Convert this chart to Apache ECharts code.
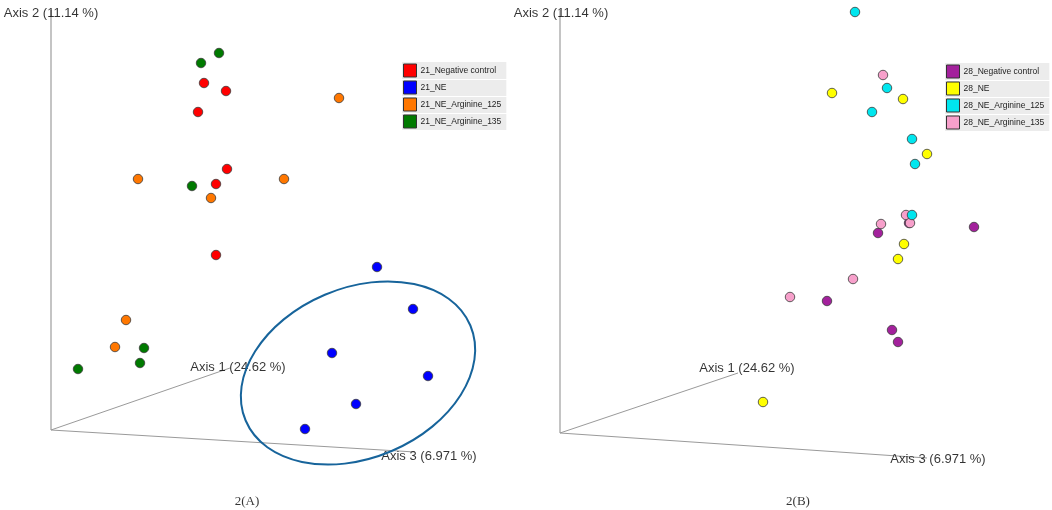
<!DOCTYPE html>
<html>
<head>
<meta charset="utf-8">
<script src="https://cdn.jsdelivr.net/npm/echarts@6/dist/echarts.min.js"></script>
<style>
html,body{margin:0;padding:0;background:#fff;}
#chart{width:1052px;height:510px;}
</style>
</head>
<body>
<div id="chart"></div>
<script>
// ---- Data (projected PCoA scores, panel units) ----
const groupsA = ['21_Negative control', '21_NE', '21_NE_Arginine_125', '21_NE_Arginine_135'];
const groupsB = ['28_Negative control', '28_NE', '28_NE_Arginine_125', '28_NE_Arginine_135'];

const a_neg   = [[153,347],[175,339],[147,318],[176,261],[165,246],[165,175]];
const a_ne    = [[326,163],[362,121],[281,77],[377,54],[305,26],[254,1]];
const a_arg125= [[288,332],[87,251],[233,251],[160,232],[75,110],[64,83]];
const a_arg135= [[168,377],[150,367],[141,244],[93,82],[89,67],[27,61]];

const b_neg   = [[349,210],[318,200],[414,206],[267,132],[332,103],[338,91]];
const b_ne    = [[272,340],[343,334],[367,279],[344,189],[338,174],[203,31]];
const b_arg125= [[295,421],[327,345],[312,321],[352,294],[355,269],[352,218]];
const b_arg135= [[323,358],[321,209],[346,218],[350,210],[293,154],[230,136]];

// 3D axes projected end points
const axis2A = [[0,0],[0,420]];
const axis1A = [[0,0],[179,62]];
const axis3A = [[0,0],[364,-22]];
const axis2B = [[0,0],[0,423]];
const axis1B = [[0,0],[178,60]];
const axis3B = [[0,0],[367,-25]];

const axisNames = ['Axis 2 (11.14 %)', 'Axis 1 (24.62 %)', 'Axis 3 (6.971 %)'];
const labelPosA = [[0,417],[187,63],[378,-26]];
const labelPosB = [[1,420],[187,65],[378,-26]];
const captions = ['2(A)', '2(B)'];
const captionPos = [[196,-72],[238,-69]];

// NE cluster ellipse in panel A: centre x, centre y, radius x, radius y, tilt (rad)
const ellipseA = [[307,57,122,85,0.4]];

const colorsA = ['#ff0000','#0000ff','#ff7700','#007a00'];
const colorsB = ['#a3219c','#ffff00','#00e6ee','#f7a0cb'];

// ---- Chart ----
const chart = echarts.init(document.getElementById('chart'));
const FONT = 'Liberation Sans, Arial, sans-serif';

function axisPair(i, xmin, xmax, ymin, ymax) {
  return {
    x: {type:'value', gridIndex:i, min:xmin, max:xmax, show:false},
    y: {type:'value', gridIndex:i, min:ymin, max:ymax, show:false}
  };
}
const pA = axisPair(0, -51, 475, -80, 430);
const pB = axisPair(1, -34, 492, -77, 433);

function lineSeries(idx, data, color, width) {
  return {type:'line', xAxisIndex:idx, yAxisIndex:idx, data:data, symbol:'none', silent:true,
    lineStyle:{color:color, width:width}, z:1, animation:false};
}
function scatterSeries(idx, name, data, color, z) {
  return {type:'scatter', name:name, xAxisIndex:idx, yAxisIndex:idx, data:data, symbolSize:9.5,
    itemStyle:{color:color, borderColor:'#3a3a3a', borderWidth:0.8, opacity:1}, z:z||3, animation:false};
}
function textSeries(idx, names, pos, font, size) {
  return {type:'scatter', xAxisIndex:idx, yAxisIndex:idx, symbolSize:0, silent:true, z:4, animation:false,
    itemStyle:{color:'transparent'},
    data: names.map((n,i)=>({name:n, value:pos[i]})),
    label:{show:true, position:'inside', formatter:'{b}', color:'#000', textBorderWidth:0,
      fontFamily:font, fontSize:size}};
}
function legendBox(names, left, top) {
  return {
    data:names, left:left, top:top, orient:'vertical', selectedMode:false,
    backgroundColor:'#ececec', padding:[1.5,5,1.5,1], itemWidth:13, itemHeight:13, itemGap:3,
    icon:'rect', itemStyle:{borderColor:'#333', borderWidth:1},
    textStyle:{fontFamily:FONT, fontSize:8.5, color:'#222', padding:[0,0,0,-1]}, z:6
  };
}
// white row separators inside each legend box
function separators(left, top, width) {
  return [1,2,3].map(k=>({type:'rect', left:left, top:top + 17*k, z:100,
    shape:{width:width, height:1}, style:{fill:'#ffffff'}}));
}

const option = {
  backgroundColor:'#ffffff',
  animation:false,
  grid:[
    {left:0, top:0, width:526, height:510},
    {left:526, top:0, width:526, height:510}
  ],
  xAxis:[pA.x, pB.x],
  yAxis:[pA.y, pB.y],
  legend:[legendBox(groupsA, 402, 62), legendBox(groupsB, 945, 63)],
  graphic: separators(402, 62, 110).concat(separators(945, 63, 110)),
  series:[
    lineSeries(0, axis2A, '#b0b0b0', 1.5),
    lineSeries(0, axis1A, '#9a9a9a', 1),
    lineSeries(0, axis3A, '#9a9a9a', 1),
    lineSeries(1, axis2B, '#b0b0b0', 1.5),
    lineSeries(1, axis1B, '#9a9a9a', 1),
    lineSeries(1, axis3B, '#9a9a9a', 1),
    scatterSeries(0, groupsA[0], a_neg, colorsA[0]),
    scatterSeries(0, groupsA[1], a_ne, colorsA[1]),
    scatterSeries(0, groupsA[2], a_arg125, colorsA[2]),
    scatterSeries(0, groupsA[3], a_arg135, colorsA[3]),
    scatterSeries(1, groupsB[0], b_neg, colorsB[0], 3),
    scatterSeries(1, groupsB[1], b_ne, colorsB[1], 3),
    scatterSeries(1, groupsB[2], b_arg125, colorsB[2], 3.2),
    scatterSeries(1, groupsB[3], b_arg135, colorsB[3], 3.1),
    {
      type:'custom', xAxisIndex:0, yAxisIndex:0, data:ellipseA, silent:true, z:5, animation:false,
      renderItem:function(params, api){
        const c = api.coord([api.value(0), api.value(1)]);
        const s = api.size([api.value(2), api.value(3)]);
        return {type:'ellipse', x:c[0], y:c[1], rotation:api.value(4),
          shape:{cx:0, cy:0, rx:s[0], ry:s[1]},
          style:{fill:null, stroke:'#17649b', lineWidth:2}};
      }
    },
    textSeries(0, axisNames, labelPosA, FONT, 13),
    textSeries(1, axisNames, labelPosB, FONT, 13),
    textSeries(0, [captions[0]], [captionPos[0]], 'Liberation Serif, Times New Roman, serif', 13),
    textSeries(1, [captions[1]], [captionPos[1]], 'Liberation Serif, Times New Roman, serif', 13)
  ]
};
chart.setOption(option);
</script>
</body>
</html>
